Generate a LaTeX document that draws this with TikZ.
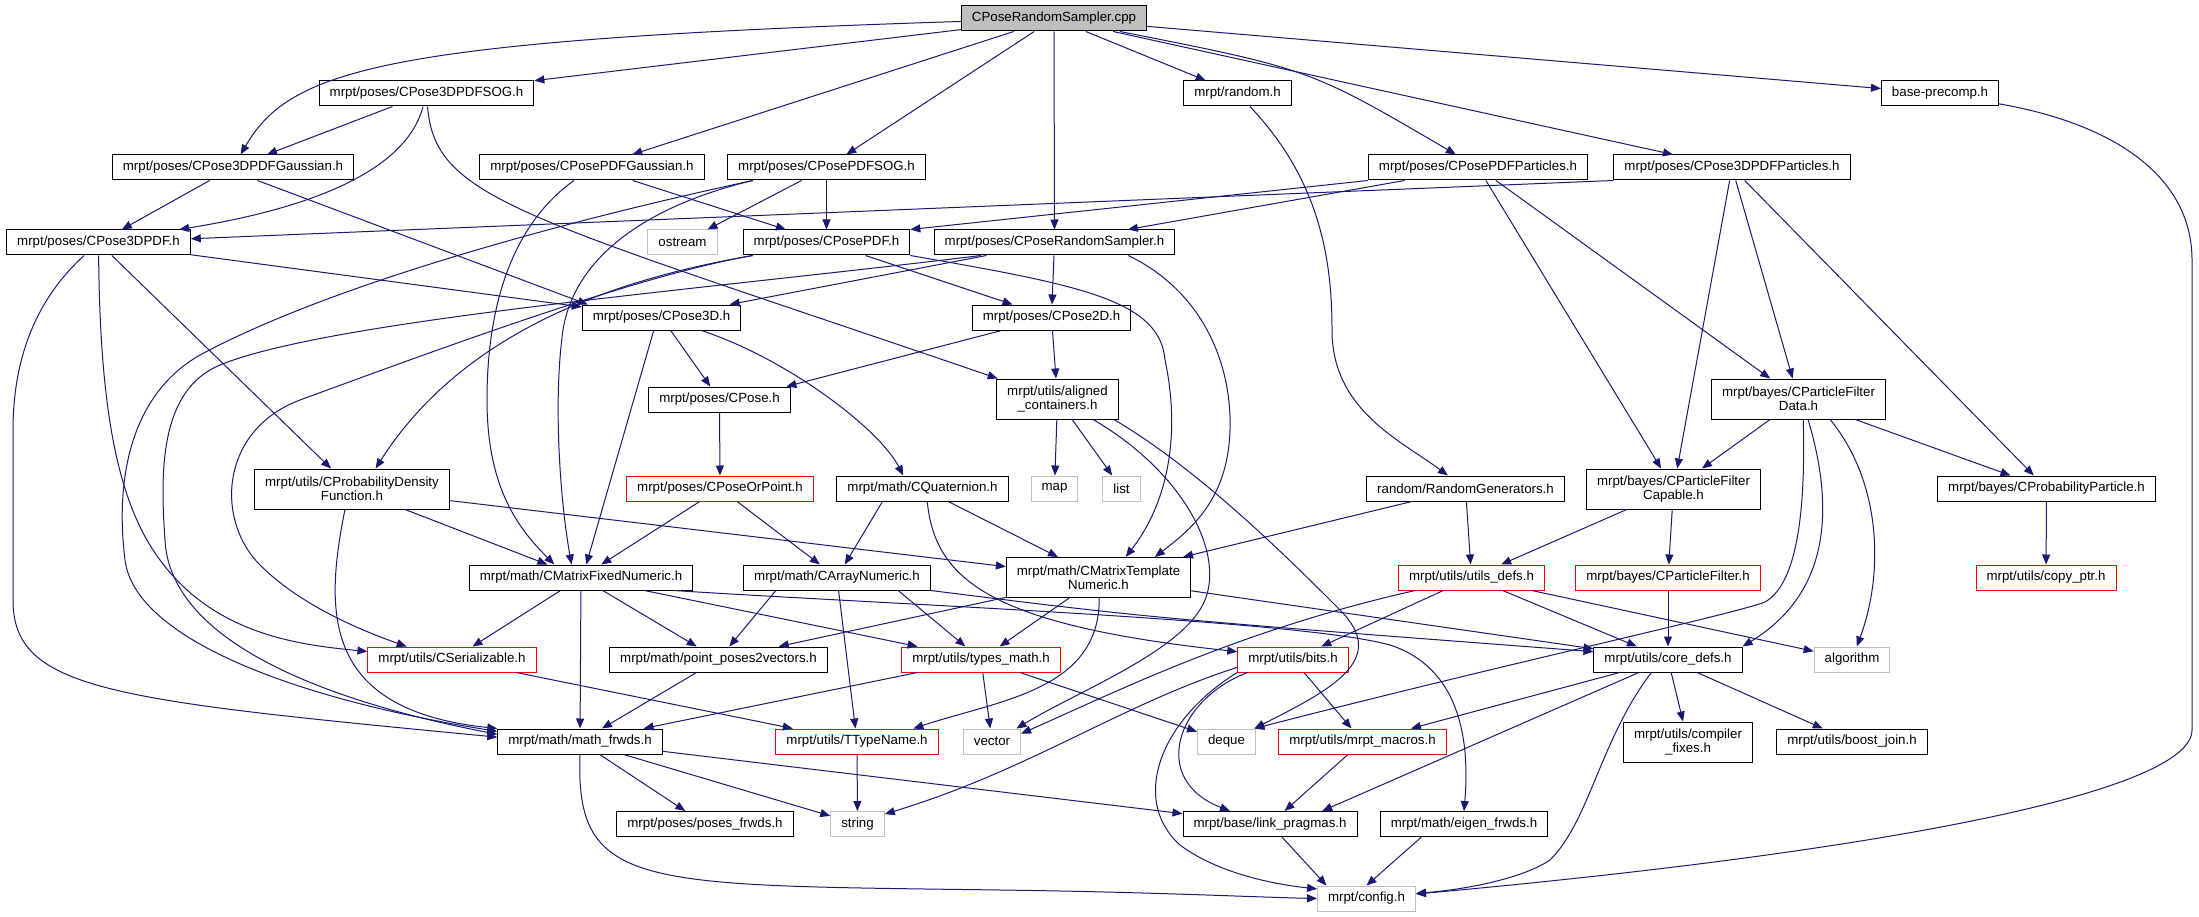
\documentclass[tikz,border=0pt]{standalone}
\usepackage{fontspec}
\setmainfont{Liberation Sans}
\definecolor{linkblue}{RGB}{25, 25, 112}
\definecolor{filegray}{RGB}{191, 191, 191}
\definecolor{missred}{RGB}{255, 0, 0}
\usetikzlibrary{arrows.meta}

\begin{document}
\begin{tikzpicture}[x=1pt, y=-1pt,
  hfile/.style={draw=black, line width=1pt, fill=white, inner xsep=10.5pt, inner ysep=0pt,
    minimum height=25pt, align=center, font=\fontsize{13.3}{14}\selectfont},
  twoline/.style={hfile, minimum height=40pt},
  redfile/.style={hfile, draw=missred},
  sysfile/.style={hfile, draw=filegray},
  rootfile/.style={hfile, fill=filegray},
  dep/.style={draw=linkblue, line width=1pt, -{Triangle[length=10pt, width=8pt]}}]
  \useasboundingbox (0,0) rectangle (2199,917);

  % Source file and the headers it includes
  \node[rootfile] (cpp) at (1054,18.5) {CPoseRandomSampler.cpp};
  \node[hfile] (sog3) at (426.5,93.5) {mrpt/poses/CPose3DPDFSOG.h};
  \node[hfile] (rnd) at (1237.5,93.5) {mrpt/random.h};
  \node[hfile] (basepc) at (1940,93.5) {base-precomp.h};
  \node[hfile] (gau3) at (233,167.5) {mrpt/poses/CPose3DPDFGaussian.h};
  \node[hfile] (gau2) at (592,167.5) {mrpt/poses/CPosePDFGaussian.h};
  \node[hfile] (sog2) at (826.5,167.5) {mrpt/poses/CPosePDFSOG.h};
  \node[hfile] (part2) at (1478,167.5) {mrpt/poses/CPosePDFParticles.h};
  \node[hfile] (part3) at (1732,167.5) {mrpt/poses/CPose3DPDFParticles.h};
  \node[hfile] (pdf3) at (98.5,242.5) {mrpt/poses/CPose3DPDF.h};
  \node[sysfile] (ostream) at (682.5,242.5) {ostream};
  \node[hfile] (pdf2) at (826.5,242.5) {mrpt/poses/CPosePDF.h};
  \node[hfile] (sampler) at (1054.5,242.5) {mrpt/poses/CPoseRandomSampler.h};
  \node[hfile] (pose3d) at (661.5,317.5) {mrpt/poses/CPose3D.h};
  \node[hfile] (pose2d) at (1051.5,317.5) {mrpt/poses/CPose2D.h};
  \node[hfile] (pose) at (719.5,399.5) {mrpt/poses/CPose.h};
  \node[twoline] (aligned) at (1057.5,399) {mrpt/utils/aligned\\\_containers.h};
  \node[twoline] (pfdata) at (1798.5,399) {mrpt/bayes/CParticleFilter\\Data.h};

  % Middle rows
  \node[twoline] (probdens) at (352,489) {mrpt/utils/CProbabilityDensity\\Function.h};
  \node[redfile] (poseorpt) at (720,488.5) {mrpt/poses/CPoseOrPoint.h};
  \node[hfile] (quat) at (922.5,488.5) {mrpt/math/CQuaternion.h};
  \node[sysfile] (map) at (1054.5,488.5) {map};
  \node[sysfile] (list) at (1121.5,488.5) {list};
  \node[hfile] (randgen) at (1465.5,488.5) {random/RandomGenerators.h};
  \node[twoline] (pfcap) at (1673.5,489) {mrpt/bayes/CParticleFilter\\Capable.h};
  \node[hfile] (probpart) at (2046.5,488.5) {mrpt/bayes/CProbabilityParticle.h};
  \node[hfile] (fixnum) at (581,577.5) {mrpt/math/CMatrixFixedNumeric.h};
  \node[hfile] (arrnum) at (837,577.5) {mrpt/math/CArrayNumeric.h};
  \node[twoline] (tmpl) at (1098.5,577.5) {mrpt/math/CMatrixTemplate\\Numeric.h};
  \node[redfile] (udefs) at (1471.5,577.5) {mrpt/utils/utils\_defs.h};
  \node[redfile] (pfilter) at (1668,577.5) {mrpt/bayes/CParticleFilter.h};
  \node[redfile] (copyptr) at (2046,577.5) {mrpt/utils/copy\_ptr.h};

  % Lower rows
  \node[redfile] (serial) at (452,659.5) {mrpt/utils/CSerializable.h};
  \node[hfile] (p2v) at (718.5,659.5) {mrpt/math/point\_poses2vectors.h};
  \node[redfile] (tmath) at (981,659.5) {mrpt/utils/types\_math.h};
  \node[redfile] (bits) at (1293,659.5) {mrpt/utils/bits.h};
  \node[hfile] (coredefs) at (1668,659.5) {mrpt/utils/core\_defs.h};
  \node[sysfile] (algorithm) at (1852,659.5) {algorithm};
  \node[hfile] (mfrwds) at (580,741.5) {mrpt/math/math\_frwds.h};
  \node[redfile] (ttype) at (857,741.5) {mrpt/utils/TTypeName.h};
  \node[sysfile] (vector) at (992,741.5) {vector};
  \node[sysfile] (deque) at (1226.5,741.5) {deque};
  \node[redfile] (macros) at (1362.5,741.5) {mrpt/utils/mrpt\_macros.h};
  \node[twoline] (compfix) at (1688,742) {mrpt/utils/compiler\\\_fixes.h};
  \node[hfile] (boostj) at (1852,741.5) {mrpt/utils/boost\_join.h};
  \node[hfile] (posefw) at (705,824) {mrpt/poses/poses\_frwds.h};
  \node[sysfile] (string) at (857.5,824) {string};
  \node[hfile] (linkp) at (1270,824) {mrpt/base/link\_pragmas.h};
  \node[hfile] (eigen) at (1464,824) {mrpt/math/eigen\_frwds.h};
  \node[sysfile] (config) at (1366.5,898.5) {mrpt/config.h};

  % Includes of the source file
  \draw[dep] (cpp) .. controls (380,40) and (290,70) .. (gau3);
  \draw[dep] (cpp) -- (sog3);
  \draw[dep] (cpp) -- (gau2);
  \draw[dep] (cpp) -- (sog2);
  \draw[dep] (cpp) -- (sampler);
  \draw[dep] (cpp) -- (rnd);
  \draw[dep] (cpp) .. controls (1310,69) .. (part2);
  \draw[dep] (cpp) -- (part3);
  \draw[dep] (cpp) -- (basepc);

  % PDF headers
  \draw[dep] (sog3) -- (gau3);
  \draw[dep] (sog3) .. controls (405,175) and (300,210) .. (pdf3);
  \draw[dep] (sog3) .. controls (435,200) and (520,215) .. (aligned);
  \draw[dep] (gau3) -- (pdf3);
  \draw[dep] (gau3.-28) -- (pose3d.170);
  \draw[dep] (gau2) .. controls (505,230) and (487,320) .. (487,400) .. controls (487,490) and (520,530) .. (fixnum.154);
  \draw[dep] (gau2) -- (pdf2);
  \draw[dep] (sog2) -- (pdf2);
  \draw[dep] (sog2) -- (ostream);
  \draw[dep] (sog2.-170) .. controls (650,205) and (575,255) .. (563,330) .. controls (553,400) and (560,500) .. (fixnum.126);
  \draw[dep] (sog2.-170) .. controls (560,222) and (330,285) .. (200,355) .. controls (130,395) and (115,480) .. (125,560) .. controls (135,640) and (300,700) .. (mfrwds.173);
  \draw[dep] (part2.south west) -- (pdf2.north east);
  \draw[dep] (part2) -- (sampler);
  \draw[dep] (part2) -- (pfcap);
  \draw[dep] (part2) -- (pfdata);
  \draw[dep] (part3.south west) -- (pdf3);
  \draw[dep] (part3) -- (pfcap);
  \draw[dep] (part3) -- (pfdata);
  \draw[dep] (part3) -- (probpart);
  \draw[dep] (rnd) .. controls (1320,180) and (1332,260) .. (1332,330) .. controls (1332,410) and (1400,440) .. (randgen);
  \draw[dep] (basepc) .. controls (2120,125) and (2192,180) .. (2192,260) -- (2192,730) .. controls (2192,790) and (1900,850) .. (config);

  % CPose3DPDF.h, CPosePDF.h, CPoseRandomSampler.h
  \draw[dep] (pdf3) .. controls (35,300) and (13,360) .. (13,430) -- (13,600) .. controls (13,690) and (110,700) .. (mfrwds.177);
  \draw[dep] (pdf3) .. controls (100,400) and (115,500) .. (160,560) .. controls (215,635) and (300,645) .. (serial);
  \draw[dep] (pdf3) -- (probdens);
  \draw[dep] (pdf3) -- (pose3d);
  \draw[dep] (pdf2) -- (pose2d);
  \draw[dep] (pdf2.south east) .. controls (1080,285) and (1160,300) .. (1165,360) .. controls (1180,430) and (1170,500) .. (tmpl.37);
  \draw[dep] (pdf2.-170) .. controls (640,275) and (470,320) .. (probdens.41);
  \draw[dep] (pdf2.-170) .. controls (640,275) and (450,345) .. (300,400) .. controls (220,430) and (215,520) .. (260,565) .. controls (300,605) and (360,630) .. (serial.164);
  \draw[dep] (sampler) -- (pose3d);
  \draw[dep] (sampler) -- (pose2d);
  \draw[dep] (sampler.-10) .. controls (1200,290) and (1232,360) .. (1230,430) .. controls (1228,500) and (1190,530) .. (tmpl.20);
  \draw[dep] (sampler.-170) .. controls (700,290) and (330,320) .. (220,365) .. controls (160,390) and (160,470) .. (165,540) .. controls (170,640) and (320,700) .. (mfrwds.175);

  % Pose classes
  \draw[dep] (pose3d) -- (pose);
  \draw[dep] (pose3d.-121) -- (fixnum.68);
  \draw[dep] (pose3d.-18) .. controls (790,360) and (880,430) .. (quat.146);
  \draw[dep] (pose2d) -- (pose.11);
  \draw[dep] (pose2d) -- (aligned);
  \draw[dep] (pose) -- (poseorpt);
  \draw[dep] (poseorpt) -- (fixnum);
  \draw[dep] (poseorpt) -- (arrnum);
  \draw[dep] (quat.-162) -- (arrnum);
  \draw[dep] (quat) -- (tmpl);
  \draw[dep] (quat.-70) .. controls (935,580) and (990,625) .. (bits.172);
  \draw[dep] (aligned) -- (map);
  \draw[dep] (aligned) -- (list);
  \draw[dep] (aligned.-30) .. controls (1180,470) and (1225,550) .. (1205,600) .. controls (1185,650) and (1080,690) .. (vector.28);
  \draw[dep] (aligned.-20) .. controls (1200,470) and (1290,560) .. (1340,610) .. controls (1390,660) and (1330,690) .. (deque.25);
  \draw[dep] (probdens) -- (fixnum);
  \draw[dep] (probdens) -- (tmpl);
  \draw[dep] (probdens.-109) .. controls (325,610) and (320,710) .. (mfrwds.north west);

  % Bayes headers
  \draw[dep] (randgen) -- (tmpl);
  \draw[dep] (randgen) -- (udefs);
  \draw[dep] (pfcap) -- (udefs);
  \draw[dep] (pfcap) -- (pfilter);
  \draw[dep] (pfilter) -- (coredefs);
  \draw[dep] (pfdata) -- (pfcap);
  \draw[dep] (pfdata) -- (probpart);
  \draw[dep] (pfdata.-77) .. controls (1806,520) and (1795,585) .. (1765,602) .. controls (1735,614) and (1500,665) .. (deque.25);
  \draw[dep] (pfdata.-65) .. controls (1832,500) and (1835,590) .. (coredefs.north east);
  \draw[dep] (pfdata.-33) .. controls (1880,480) and (1885,570) .. (algorithm);
  \draw[dep] (probpart) -- (copyptr);

  % Math headers
  \draw[dep] (fixnum) -- (serial);
  \draw[dep] (fixnum) -- (mfrwds);
  \draw[dep] (fixnum) -- (p2v);
  \draw[dep] (fixnum) -- (tmath);
  \draw[dep] (fixnum.-8) .. controls (900,605) and (1300,620) .. (1390,645) .. controls (1460,668) and (1470,740) .. (eigen.north);
  \draw[dep] (arrnum.-168) -- (p2v);
  \draw[dep] (arrnum) -- (ttype);
  \draw[dep] (arrnum.-12) -- (tmath);
  \draw[dep] (arrnum.south east) .. controls (1150,618) .. (coredefs.174);
  \draw[dep] (tmpl) -- (p2v);
  \draw[dep] (tmpl) -- (tmath);
  \draw[dep] (tmpl.-88) .. controls (1100,690) and (1000,700) .. (ttype.13);
  \draw[dep] (tmpl) -- (coredefs);

  % Utils headers
  \draw[dep] (udefs) -- (bits);
  \draw[dep] (udefs) -- (coredefs);
  \draw[dep] (udefs.-167) .. controls (1240,630) and (1120,690) .. (vector.15);
  \draw[dep] (udefs) -- (algorithm);
  \draw[dep] (serial) -- (ttype);
  \draw[dep] (p2v) -- (mfrwds);
  \draw[dep] (tmath) -- (mfrwds);
  \draw[dep] (tmath) -- (vector);
  \draw[dep] (tmath) -- (deque);
  \draw[dep] (bits) -- (macros);
  \draw[dep] (bits.-164) .. controls (1175,700) and (1150,780) .. (linkp.162);
  \draw[dep] (bits.south west) .. controls (1160,720) and (1130,800) .. (1180,845) .. controls (1220,875) and (1280,885) .. (config.169);
  \draw[dep] (bits.-172) .. controls (1120,705) and (1030,770) .. (string.20);
  \draw[dep] (coredefs) -- (macros);
  \draw[dep] (coredefs.-156) -- (linkp.14);
  \draw[dep] (coredefs.-142) .. controls (1600,740) and (1590,820) .. (1550,860) .. controls (1520,880) and (1460,890) .. (config.6);
  \draw[dep] (coredefs) -- (compfix);
  \draw[dep] (coredefs) -- (boostj);

  % Leaf headers
  \draw[dep] (macros) -- (linkp);
  \draw[dep] (linkp) -- (config.162);
  \draw[dep] (eigen.-163) -- (config.north);
  \draw[dep] (mfrwds) -- (posefw);
  \draw[dep] (mfrwds) -- (string);
  \draw[dep] (mfrwds) -- (linkp);
  \draw[dep] (mfrwds.south) .. controls (575,890) and (640,885) .. (1000,890) .. controls (1150,892) and (1250,897) .. (config.west);
  \draw[dep] (ttype) -- (string);
\end{tikzpicture}
\end{document}
